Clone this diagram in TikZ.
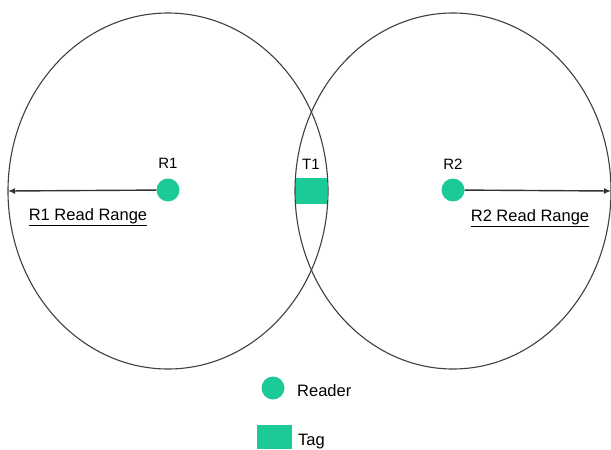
\documentclass[tikz,border=0pt]{standalone}
\usepackage{fontspec}
\setmainfont{Liberation Sans}
\usetikzlibrary{arrows.meta}
\definecolor{teal1}{RGB}{28,202,152}
\begin{document}
\begin{tikzpicture}[x=1pt,y=-1pt,
  rangecircle/.style={draw=black!75,line width=1.1pt},
  readerdot/.style={circle,fill=teal1,minimum size=23pt,inner sep=0pt},
  tagbox/.style={fill=teal1,minimum width=32pt,minimum height=26pt,inner sep=0pt},
  legtag/.style={fill=teal1,minimum width=35pt,minimum height=24pt,inner sep=0pt},
  smalllbl/.style={font=\fontsize{15}{17}\selectfont,inner sep=0pt},
  lbl/.style={font=\fontsize{16.5}{19}\selectfont,inner sep=0pt},
  arr/.style={draw=black!80,line width=1.4pt,-{Latex[length=7pt,width=6pt]}}]
\useasboundingbox (0,0) rectangle (611,450);
\fill[white] (0,0) rectangle (611,450);
\node[tagbox] (t1) at (311,191) {};
\draw[rangecircle] (168,191) ellipse [x radius=160, y radius=178];
\draw[rangecircle] (453,191) ellipse [x radius=158, y radius=178];
\node[readerdot] (r1) at (168,190) {};
\node[readerdot] (r2) at (453,190) {};
\node[smalllbl,anchor=base] (lr1) at (168,168) {R1};
\node[smalllbl,anchor=base] (lr2) at (453,169) {R2};
\node[smalllbl,anchor=base] (lt1) at (311,169) {T1};
\coordinate (e1) at (8,191);
\coordinate (e2) at (611,191);
\draw[arr] (r1) -- (e1);
\draw[arr] (r2) -- (e2);
\node[lbl,anchor=base] (rr1) at (88,220) {\underline{R1 Read Range}};
\node[lbl,anchor=base] (rr2) at (530,221) {\underline{R2 Read Range}};
\node[readerdot] (lgr) at (273,388) {};
\node[lbl,anchor=base west] (lgrt) at (297,396) {Reader};
\node[legtag] (lgt) at (274.5,437) {};
\node[lbl,anchor=base west] (lgtt) at (298,445) {Tag};
\end{tikzpicture}
\end{document}
